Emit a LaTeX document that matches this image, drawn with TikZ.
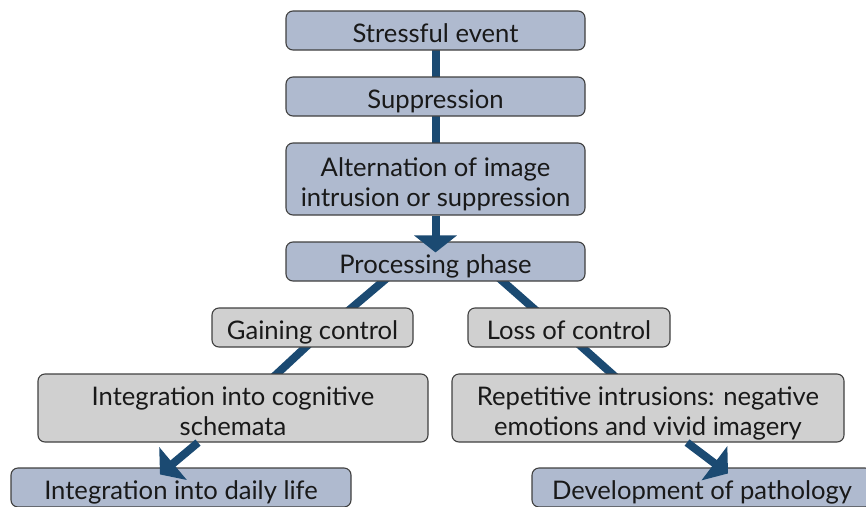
\documentclass[tikz,border=0pt]{standalone}
\usepackage{fontspec}
\setmainfont{Lato}
\usetikzlibrary{arrows.meta,backgrounds}
\definecolor{boxblue}{HTML}{AFBACF}
\definecolor{boxgrey}{HTML}{D0D0D0}
\definecolor{boxline}{HTML}{404040}
\definecolor{linkblue}{HTML}{1B4A72}
\newcommand\linetop{\rule{0pt}{30pt}}
\begin{document}
\begin{tikzpicture}[x=1pt,y=-1pt,
    box/.style={draw=boxline,line width=1.1pt,rounded corners=7pt,inner sep=0pt,
      align=center,text=black!90,font=\fontsize{25.6}{30}\selectfont,
      execute at begin node={\rule{0pt}{30pt}},
      execute at end node={\rule[-6pt]{0pt}{6pt}}},
    bluebox/.style={box,fill=boxblue},
    greybox/.style={box,fill=boxgrey},
    link/.style={linkblue,line width=8pt},
    linkarrow/.style={link,-{Triangle[width=42pt,length=17pt]}}]
  \useasboundingbox (0,0) rectangle (866,506);
  % boxes
  \node[bluebox,minimum width=299pt,minimum height=39pt] (event) at (435.5,30.5) {Stressful event};
  \node[bluebox,minimum width=299pt,minimum height=39pt] (supp) at (435.5,96.5) {Suppression};
  \node[bluebox,minimum width=299pt,minimum height=72pt] (alt) at (435.5,179) {\linetop Alternation of image\\intrusion or suppression};
  \node[bluebox,minimum width=299pt,minimum height=39pt] (proc) at (435.5,261.5) {Processing phase};
  \node[greybox,minimum width=201pt,minimum height=39pt] (gain) at (312.5,327.5) {Gaining control};
  \node[greybox,minimum width=202pt,minimum height=39pt] (loss) at (569,327.5) {Loss of control};
  \node[greybox,minimum width=390pt,minimum height=68pt] (integ) at (233,408) {\linetop Integration into cognitive\\schemata};
  \node[greybox,minimum width=392pt,minimum height=68pt] (rep) at (648,408) {\linetop Repetitive intrusions: negative\\emotions and vivid imagery};
  \node[bluebox,minimum width=340pt,minimum height=39pt] (daily) at (181,487.5) {Integration into daily life};
  \node[bluebox,minimum width=340pt,minimum height=39pt] (path) at (702,487.5) {Development of pathology};
  % links behind the boxes
  \begin{scope}[on background layer]
    \draw[link] ([yshift=4pt]event.south) -- ([yshift=-4pt]supp.north);
    \draw[link] ([yshift=4pt]supp.south) -- ([yshift=-4pt]alt.north);
    \draw[link] ([xshift=-48pt,yshift=4pt]proc.south) -- ([xshift=35pt,yshift=-4pt]gain.north);
    \draw[link] ([xshift=63pt,yshift=4pt]proc.south) -- ([xshift=-32pt,yshift=-4pt]loss.north);
    \draw[link] ([xshift=-3pt,yshift=4pt]gain.south) -- ([xshift=40pt,yshift=-4pt]integ.north);
    \draw[link] ([xshift=9pt,yshift=4pt]loss.south) -- ([xshift=-32pt,yshift=-4pt]rep.north);
  \end{scope}
  % arrows over the boxes
  \draw[linkarrow] (alt.south) -- ([yshift=-11pt]proc.north);
  \draw[linkarrow] ([xshift=-35pt]integ.south) -- ([xshift=-21pt,yshift=-7pt]daily.north);
  \draw[linkarrow] ([xshift=39pt]rep.south) -- ([xshift=26pt,yshift=-6pt]path.north);
\end{tikzpicture}
\end{document}
